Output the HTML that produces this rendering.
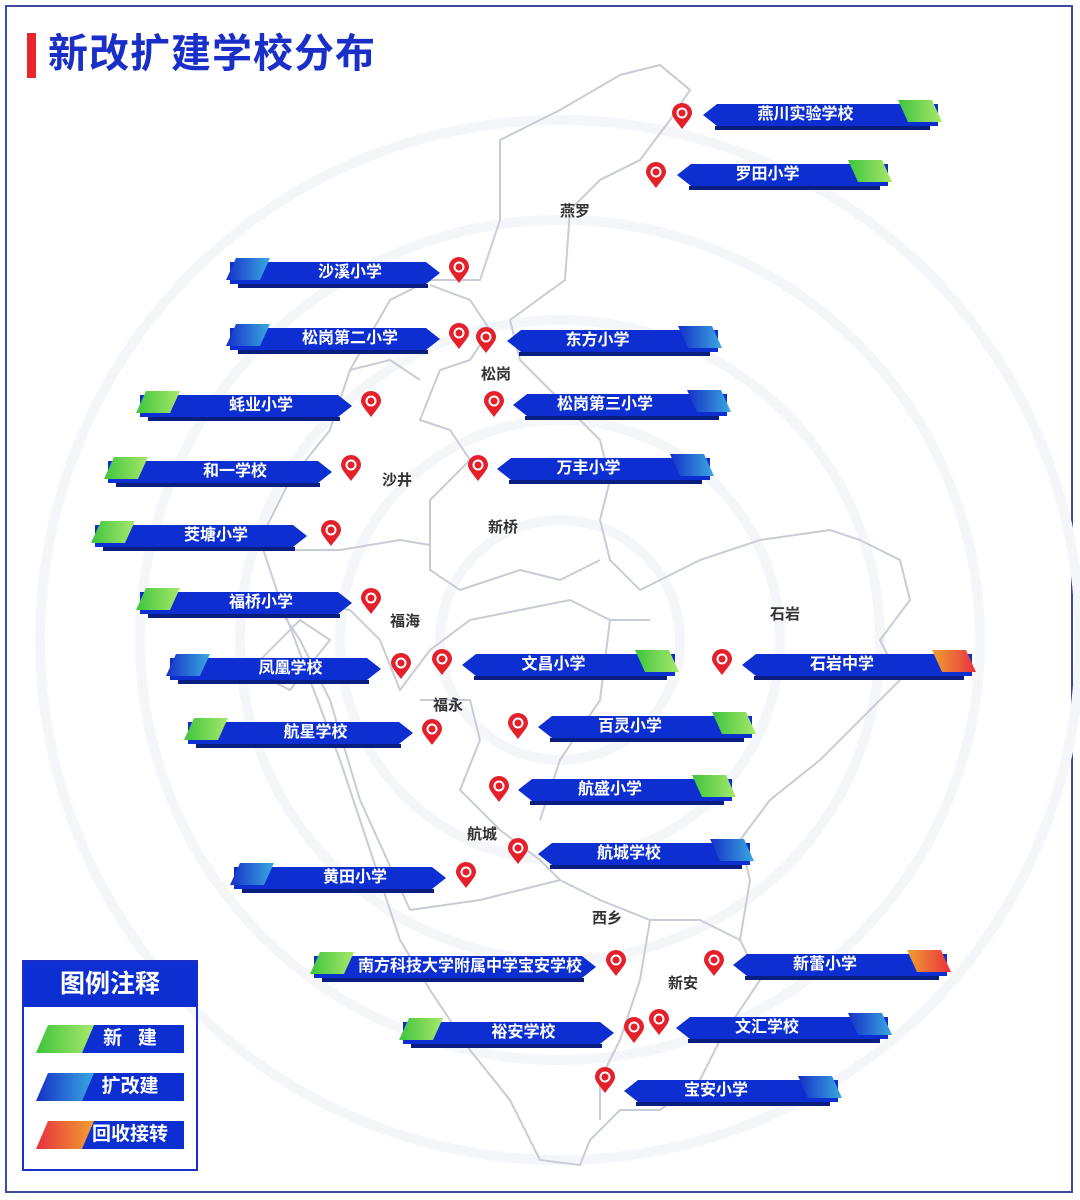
<!DOCTYPE html>
<html><head><meta charset="utf-8">
<style>
html,body{margin:0;padding:0;}
body{width:1080px;height:1200px;position:relative;background:#fff;overflow:hidden;font-family:"Liberation Sans","Noto Sans CJK SC",sans-serif;}
.frame{position:absolute;left:5px;top:5px;width:1068px;height:1188px;border:2px solid #3a4c9a;box-sizing:border-box;}
.title{position:absolute;left:48px;top:30px;font-size:40px;font-weight:bold;color:#1a2fc8;letter-spacing:1px;line-height:48px;}
.rbar{position:absolute;left:27px;top:33px;width:9px;height:45px;background:#e8262b;}
.bar{position:absolute;top:0;height:22px;background:#0d2fd1;color:#fff;font-weight:bold;font-size:16px;line-height:22px;text-align:center;}
.shadow{position:absolute;height:4px;background:#0a1e80;}
.pin{position:absolute;width:20px;height:26px;}
.region{position:absolute;font-size:15px;font-weight:bold;color:#333;}
.legend{position:absolute;left:22px;top:960px;width:176px;height:211px;border:2px solid #1a2fc8;box-sizing:border-box;}
.lh{background:#0d2fd1;color:#fff;font-size:25px;font-weight:bold;text-align:center;height:45px;line-height:45px;}
.li{position:absolute;left:12px;width:148px;height:28px;}
.li .b{position:absolute;left:40px;right:0;top:0;bottom:0;background:#0d2fd1;color:#fff;font-weight:bold;font-size:19px;line-height:28px;text-align:center;}
.li .t{position:absolute;left:0;top:0;width:58px;height:28px;clip-path:polygon(12px 0,100% 0,calc(100% - 12px) 100%,0 100%);}
</style></head><body>
<div class="frame"></div>
<svg width="1080" height="1200" style="position:absolute;left:0;top:0">
<g fill="none" stroke="#f4f6f9" stroke-width="10">
<circle cx="560" cy="640" r="120"/><circle cx="560" cy="640" r="220"/><circle cx="560" cy="640" r="320"/><circle cx="560" cy="640" r="420"/><circle cx="560" cy="640" r="520"/>
</g>
<g fill="none" stroke="#c8ccd6" stroke-width="2">
<path d="M620,75 L660,65 L690,90 L670,120 L640,160 L600,180 L570,210 L565,280 L510,320 L520,360 L560,400 L600,440 L610,480 L600,520 L610,560 L640,590 L700,560 L760,540 L830,530 L860,540 L900,560 L910,600 L880,640 L900,680 L860,720 L820,760 L770,800 L740,840 L750,880 L740,940 L760,980 L720,1040 L700,1080 L660,1110 L620,1110 L590,1140 L580,1165 L540,1160 L510,1100 L470,1050 L430,990 L400,940 L380,880 L340,760 L310,680 L280,600 L260,540 L290,480 L330,430 L350,370 L390,300 L430,280 L480,280 L500,220 L500,140 L560,110 Z"/>
<path d="M430,285 L470,300 L490,330 L470,360 L440,370 L420,420 L450,430 L470,460 L430,500 L430,570 L460,590 L520,570 L560,580 L600,560"/>
<path d="M350,370 L390,360 L420,380"/>
<path d="M280,550 L340,550 L400,540 L430,545"/>
<path d="M300,600 L350,610 L380,640 L400,690 L430,650 L470,620 L520,610 L570,600 L610,620 L650,620"/>
<path d="M420,700 L470,700 L480,740 L460,790 L500,830 L540,860 L560,880"/>
<path d="M410,910 L480,900 L560,880 L600,900 L650,920 L700,920 L740,940"/>
<path d="M650,920 L640,980 L620,1040 L600,1080 L600,1120"/>
<path d="M610,620 L600,700 L560,760 L540,820"/>
<path d="M280,610 L300,640 L330,700 L360,800 L410,910"/>
<path d="M250,670 L300,620 L330,640 L290,690 Z"/>
</g>
</svg>
<div class="rbar"></div>
<div class="title">新改扩建学校分布</div>

<div class="region" style="left:560px;top:200px">燕罗</div>
<div class="region" style="left:481px;top:363px">松岗</div>
<div class="region" style="left:382px;top:469px">沙井</div>
<div class="region" style="left:488px;top:516px">新桥</div>
<div class="region" style="left:390px;top:610px">福海</div>
<div class="region" style="left:770px;top:603px">石岩</div>
<div class="region" style="left:433px;top:694px">福永</div>
<div class="region" style="left:467px;top:823px">航城</div>
<div class="region" style="left:592px;top:907px">西乡</div>
<div class="region" style="left:668px;top:972px">新安</div>

<div id="labels"></div>

<div class="legend">
<div class="lh">图例注释</div>
<div class="li" style="top:63px"><div class="b">新&nbsp;&nbsp;&nbsp;建</div><div class="t" style="background:linear-gradient(90deg,#3ec43e,#a8e86a)"></div></div>
<div class="li" style="top:111px"><div class="b">扩改建</div><div class="t" style="background:linear-gradient(90deg,#1530c8,#3aa8e0)"></div></div>
<div class="li" style="top:159px"><div class="b">回收接转</div><div class="t" style="background:linear-gradient(90deg,#e83040,#f0a030)"></div></div>
</div>

<script>
var G='linear-gradient(90deg,#3ec43e,#a8e86a)',B='linear-gradient(90deg,#1530c8,#3aa8e0)',O='linear-gradient(90deg,#f0a030,#e83040)';
var R=[["沙溪小学",230,440,262,B],["松岗第二小学",230,440,328,B],["蚝业小学",140,352,395,G],["和一学校",108,332,461,G],["茭塘小学",95,307,525,G],["福桥小学",140,352,592,G],["凤凰学校",170,381,658,B],["航星学校",188,413,722,G],["黄田小学",234,446,867,B],["南方科技大学附属中学宝安学校",314,596,956,G],["裕安学校",403,614,1022,G]];
var L=[["燕川实验学校",703,938,104,G],["罗田小学",677,888,164,G],["东方小学",507,718,330,B],["松岗第三小学",513,727,394,B],["万丰小学",497,710,458,B],["文昌小学",462,675,654,G],["石岩中学",742,972,654,O],["百灵小学",538,752,716,G],["航盛小学",518,732,779,G],["航城学校",538,750,843,B],["新蕾小学",733,947,954,O],["文汇学校",676,888,1017,B],["宝安小学",624,838,1080,B]];
var pins=[[459,270],[459,336],[486,340],[371,404],[351,468],[331,533],[371,601],[401,666],[432,732],[466,875],[616,963],[634,1030],[682,116],[656,175],[494,404],[478,468],[442,662],[722,662],[518,726],[499,789],[518,851],[714,963],[659,1022],[605,1080]];
var h='';
R.forEach(function(d){var w=d[2]-d[1];
h+='<div class="shadow" style="left:'+(d[1]+8)+'px;top:'+(d[3]+22)+'px;width:'+(w-20)+'px"></div>';
h+='<div class="bar" style="left:'+d[1]+'px;top:'+d[3]+'px;width:'+w+'px;padding-left:30px;box-sizing:border-box;clip-path:polygon(0 0,calc(100% - 14px) 0,100% 50%,calc(100% - 14px) 100%,0 100%)">'+d[0]+'</div>';
h+='<div style="position:absolute;left:'+(d[1]-4)+'px;top:'+(d[3]-4)+'px;width:44px;height:22px;background:'+d[4]+';clip-path:polygon(10px 0,100% 0,calc(100% - 10px) 100%,0 100%)"></div>';});
L.forEach(function(d){var w=d[2]-d[1];
h+='<div class="shadow" style="left:'+(d[1]+12)+'px;top:'+(d[3]+22)+'px;width:'+(w-20)+'px"></div>';
h+='<div class="bar" style="left:'+d[1]+'px;top:'+d[3]+'px;width:'+w+'px;padding-right:30px;box-sizing:border-box;clip-path:polygon(14px 0,100% 0,100% 100%,14px 100%,0 50%)">'+d[0]+'</div>';
h+='<div style="position:absolute;left:'+(d[2]-40)+'px;top:'+(d[3]-4)+'px;width:44px;height:22px;background:'+d[4]+';clip-path:polygon(0 0,calc(100% - 10px) 0,100% 100%,10px 100%)"></div>';});
pins.forEach(function(p){
h+='<svg class="pin" style="left:'+(p[0]-10)+'px;top:'+(p[1]-13)+'px" viewBox="0 0 20 26"><path d="M10,26 C4,18 0,14 0,10 A10,10 0 0 1 20,10 C20,14 16,18 10,26Z" fill="#e4202a"/><circle cx="10" cy="10" r="4.5" fill="none" stroke="#fff" stroke-width="2"/></svg>';});
document.getElementById('labels').innerHTML=h;
</script>
</body></html>
